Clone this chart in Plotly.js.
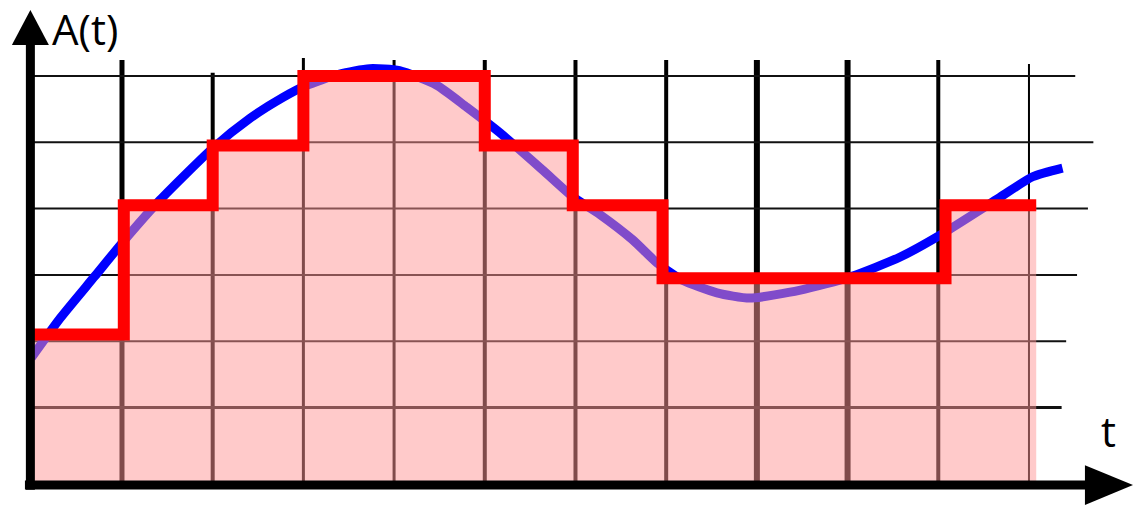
<!DOCTYPE html>
<html><head><meta charset="utf-8">
<script src="https://cdn.plot.ly/plotly-3.0.1.min.js"></script>
<style>html,body{margin:0;padding:0;background:#fff}#chart{width:1135px;height:510px}</style>
</head><body><div id="chart"></div>
<script>
// Continuous signal A(t) (t and A in grid units)
const curveT = [0, 0.32, 0.70, 1.0, 1.42, 2.0, 2.41, 2.78, 3.02, 3.40, 3.73, 4.06, 4.47, 4.80, 5.17, 5.64, 5.96, 6.27, 6.63, 6.90, 7.18, 7.56, 7.92, 8.48, 9.03, 9.58, 10.02, 10.68, 11.04, 11.37];
const curveA = [1.75, 2.35, 2.98, 3.48, 4.13, 4.91, 5.36, 5.68, 5.85, 6.03, 6.11, 6.08, 5.86, 5.53, 5.14, 4.58, 4.19, 3.91, 3.53, 3.18, 2.92, 2.73, 2.65, 2.77, 2.97, 3.27, 3.60, 4.17, 4.48, 4.61];
// Sample-and-hold staircase: interval edges and held values
const holdEdges = [0, 1.02, 2, 3, 5, 5.97, 6.96, 10.08, 11.08];
const holdValues = [2.1, 4.05, 4.95, 6.0, 4.95, 4.05, 2.95, 4.05];
// Grid positions
const gridT = [1, 2, 3, 4, 5, 6, 7, 8, 9, 10, 11];
const gridA = [1, 2, 3, 4, 5, 6];
// Axis labels
const yLabel = 'A(t)';
const xLabel = 't';

// ---- layout constants (styles / geometry) ----
const X_RANGE = [-0.345, 12.169];
const Y_RANGE = [-0.546, 7.146];
const AXIS_A = -0.17;          // level of the horizontal axis
const AXIS_T = -0.01;          // position of the vertical axis
const vTop = [6.24, 6.05, 6.27, 6.24, 6.24, 6.24, 6.24, 6.24, 6.24, 6.24, 6.18];
const vWidth = [5, 4, 3, 3, 4, 4, 4, 6, 6, 4, 2];
const hEnd = [11.36, 11.41, 11.53, 11.65, 11.71, 11.51];
const hWidth = [3, 2, 2, 2, 2, 2];

const shapes = [];
gridT.forEach((t, i) => shapes.push({type:'line', layer:'below', xref:'x', yref:'y',
  x0:t, x1:t, y0:AXIS_A, y1:vTop[i], line:{color:'#000', width:vWidth[i]}}));
gridA.forEach((a, i) => shapes.push({type:'line', layer:'below', xref:'x', yref:'y',
  x0:AXIS_T, x1:hEnd[i], y0:a, y1:a, line:{color:'#111', width:hWidth[i]}}));

// axes with arrow heads
const yTip = 6.995, yBase = 6.466, yHalf = 0.204;
const xTip = 12.147, xBase = 11.617, xHalf = 0.30;
shapes.push({type:'line', layer:'above', x0:AXIS_T, x1:AXIS_T, y0:AXIS_A - 0.07, y1:yBase + 0.02, line:{color:'#000', width:9}});
shapes.push({type:'line', layer:'above', x0:AXIS_T - 0.06, x1:xBase + 0.02, y0:AXIS_A, y1:AXIS_A, line:{color:'#000', width:9}});
shapes.push({type:'path', layer:'above', path:`M ${AXIS_T - yHalf} ${yBase} L ${AXIS_T + yHalf} ${yBase} L ${AXIS_T} ${yTip} Z`, fillcolor:'#000', line:{width:0}});
shapes.push({type:'path', layer:'above', path:`M ${xBase} ${AXIS_A - xHalf} L ${xBase} ${AXIS_A + xHalf} L ${xTip} ${AXIS_A} Z`, fillcolor:'#000', line:{width:0}});

// staircase polygon down to the axis, built from the hold data
const polyX = [holdEdges[0]], polyY = [AXIS_A];
const stepX = [], stepY = [];
for (let i = 0; i < holdValues.length; i++) {
  polyX.push(holdEdges[i], holdEdges[i+1]);
  polyY.push(holdValues[i], holdValues[i]);
  stepX.push(holdEdges[i], holdEdges[i+1]);
  stepY.push(holdValues[i], holdValues[i]);
}
polyX.push(holdEdges[holdEdges.length-1]); polyY.push(AXIS_A);

const traces = [
  {x:curveT, y:curveA, mode:'lines', line:{color:'#0000ff', width:9, shape:'spline', smoothing:0.6}, hoverinfo:'skip'},
  {x:polyX, y:polyY, mode:'lines', fill:'toself', fillcolor:'rgba(255,150,150,0.5)', line:{width:0}, hoverinfo:'skip'},
  {x:stepX, y:stepY, mode:'lines', line:{color:'#ff0000', width:12}, hoverinfo:'skip'}
];

const layout = {
  width:1135, height:510, margin:{l:0, r:0, t:0, b:0},
  paper_bgcolor:'#fff', plot_bgcolor:'#fff', showlegend:false,
  xaxis:{range:X_RANGE, visible:false, fixedrange:true},
  yaxis:{range:Y_RANGE, visible:false, fixedrange:true},
  shapes:shapes,
  annotations:[
    {text:yLabel, xref:'paper', yref:'paper', x:50/1135, y:1 - 28/510, xanchor:'left', yanchor:'middle', showarrow:false, font:{family:'Open Sans', size:42, color:'#000'}},
    {text:xLabel, xref:'paper', yref:'paper', x:1108/1135, y:1 - 430/510, xanchor:'center', yanchor:'middle', showarrow:false, font:{family:'Open Sans', size:42, color:'#000'}}
  ]
};
Plotly.newPlot('chart', traces, layout, {staticPlot:true, displayModeBar:false});
</script></body></html>
